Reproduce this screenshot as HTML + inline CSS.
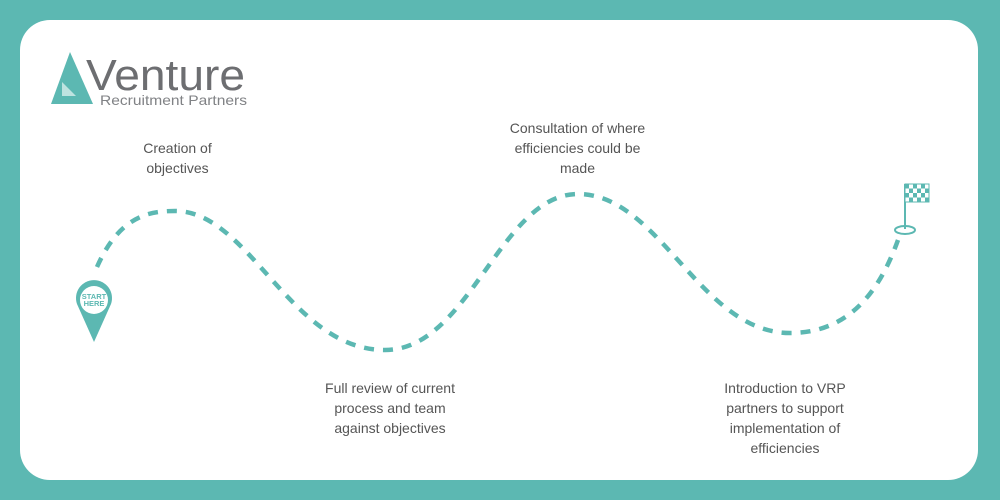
<!DOCTYPE html>
<html><head><meta charset="utf-8"><style>
html,body{margin:0;padding:0;width:1000px;height:500px;background:#5cb8b2;overflow:hidden;font-family:"Liberation Sans",sans-serif}
.card{position:absolute;left:20px;top:20px;width:958px;height:460px;background:#fff;border-radius:30px}
.t{position:absolute;color:#555;font-size:14px;line-height:20px;text-align:center}
</style></head><body>
<div class="card"></div>
<svg width="1000" height="500" style="position:absolute;left:0;top:0">
<polygon points="70,52 51,104 93,104" fill="#5cb8b2"/>
<polygon points="62,82 62,96 76,96" fill="#fff" opacity="0.6"/>
<text x="86" y="90" font-family="Liberation Sans" font-size="44" fill="#6d6e71" textLength="159" lengthAdjust="spacingAndGlyphs">Venture</text>
<text x="100" y="105" font-family="Liberation Sans" font-size="14" fill="#808285" textLength="147" lengthAdjust="spacingAndGlyphs">Recruitment Partners</text>
<path d="M97,267 C120,215 150,211 175,211 C250,211 290,350 385,350 C470,350 500,194 578,194 C660,194 700,333 790,333 C850,333 880,290 898,240" fill="none" stroke="#5cb8b2" stroke-width="4.5" stroke-dasharray="10 9"/>
<path d="M77,304 A18,18 0 1 1 111,304 L94,342 Z" fill="#5cb8b2"/>
<circle cx="94" cy="300" r="14" fill="#fff"/>
<text x="94" y="299" text-anchor="middle" font-size="7.5" font-weight="bold" fill="#5cb8b2">START</text>
<text x="94" y="306" text-anchor="middle" font-size="7.5" font-weight="bold" fill="#5cb8b2">HERE</text>
<line x1="905" y1="184" x2="905" y2="229" stroke="#5cb8b2" stroke-width="2"/>
<ellipse cx="905" cy="230" rx="10" ry="4" fill="none" stroke="#5cb8b2" stroke-width="2"/>
<rect x="905" y="184" width="24" height="18" fill="#fff" stroke="#5cb8b2" stroke-width="1"/>
<g fill="#5cb8b2">
<rect x="905" y="184" width="4" height="4.5"/><rect x="913" y="184" width="4" height="4.5"/><rect x="921" y="184" width="4" height="4.5"/>
<rect x="909" y="188.5" width="4" height="4.5"/><rect x="917" y="188.5" width="4" height="4.5"/><rect x="925" y="188.5" width="4" height="4.5"/>
<rect x="905" y="193" width="4" height="4.5"/><rect x="913" y="193" width="4" height="4.5"/><rect x="921" y="193" width="4" height="4.5"/>
<rect x="909" y="197.5" width="4" height="4.5"/><rect x="917" y="197.5" width="4" height="4.5"/><rect x="925" y="197.5" width="4" height="4.5"/>
</g>
</svg>
<div class="t" style="left:100px;top:138px;width:155px">Creation of<br>objectives</div>
<div class="t" style="left:300px;top:378px;width:180px">Full review of current<br>process and team<br>against objectives</div>
<div class="t" style="left:495px;top:118px;width:165px">Consultation of where<br>efficiencies could be<br>made</div>
<div class="t" style="left:700px;top:378px;width:170px">Introduction to VRP<br>partners to support<br>implementation of<br>efficiencies</div>
</body></html>
